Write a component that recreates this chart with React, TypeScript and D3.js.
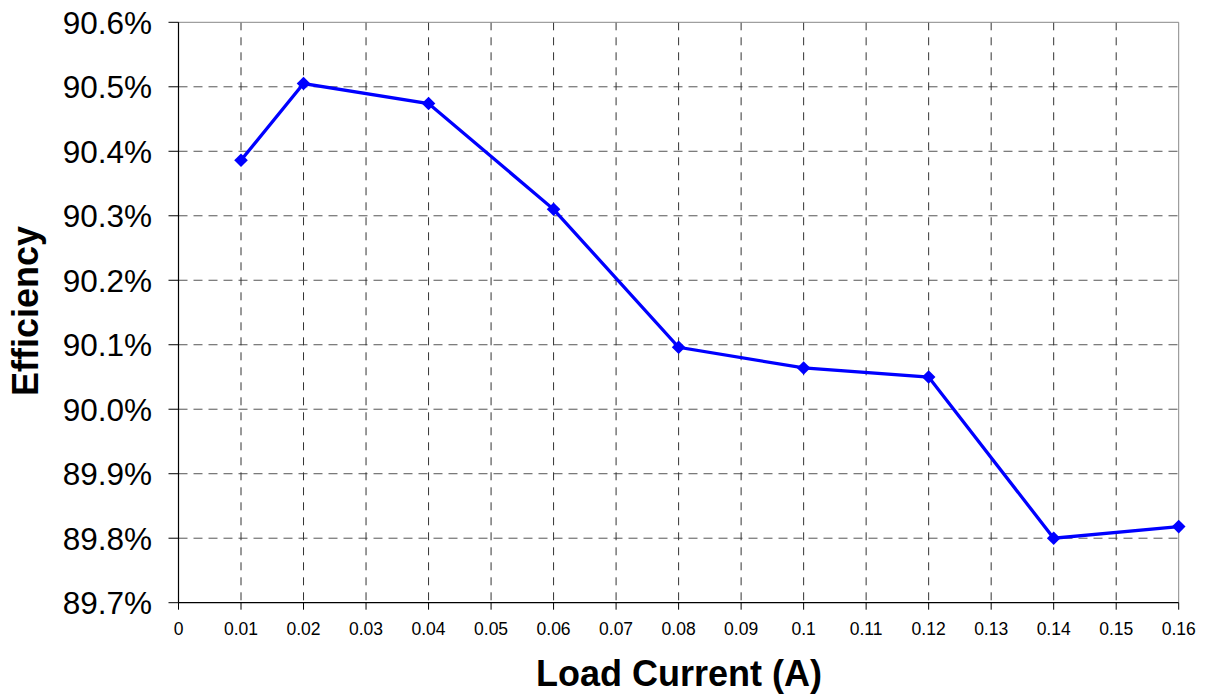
import React from "react";
import * as d3 from "d3";

const loadCurrent = [0.01, 0.02, 0.04, 0.06, 0.08, 0.1, 0.12, 0.14, 0.16];
const efficiency = [90.386, 90.505, 90.474, 90.31, 90.096, 90.064, 90.05, 89.8, 89.818];
const xTicks = [0, 0.01, 0.02, 0.03, 0.04, 0.05, 0.06, 0.07, 0.08, 0.09, 0.1, 0.11, 0.12, 0.13, 0.14, 0.15, 0.16];
const yTicks = [89.7, 89.8, 89.9, 90.0, 90.1, 90.2, 90.3, 90.4, 90.5, 90.6];

const W = 1205;
const H = 698;
const left = 178.5;
const right = 1178.7;
const top = 22.3;
const bottom = 602.7;
const FONT = "'Liberation Sans', Arial, sans-serif";

export default function App() {
  const x = d3.scaleLinear().domain([0, 0.16]).range([left, right]);
  const y = d3.scaleLinear().domain([89.7, 90.6]).range([bottom, top]);
  const pts = loadCurrent.map((c, i) => [x(c), y(efficiency[i])] as [number, number]);
  const line = d3.line()(pts) || "";
  const d = 6.8;
  return (
    <svg width={W} height={H} style={{ position: "absolute", left: 0, top: 0, background: "#fff" }}>
      <rect x={0} y={0} width={W} height={H} fill="#fff" />
      {yTicks.slice(1, -1).map((t) => (
        <line key={"hg" + t} x1={left} x2={right} y1={y(t)} y2={y(t)} stroke="#555" strokeWidth={1} strokeDasharray="9,6" />
      ))}
      {xTicks.slice(1, -1).map((t) => (
        <line key={"vg" + t} x1={x(t)} x2={x(t)} y1={top} y2={bottom} stroke="#333" strokeWidth={1} strokeDasharray="8,7" />
      ))}
      <line x1={left} x2={right} y1={top} y2={top} stroke="#888" strokeWidth={1} />
      <line x1={right} x2={right} y1={top} y2={bottom} stroke="#888" strokeWidth={1} />
      <line x1={left} x2={left} y1={top} y2={bottom} stroke="#000" strokeWidth={1.2} />
      <line x1={left} x2={right} y1={bottom} y2={bottom} stroke="#000" strokeWidth={1.2} />
      {yTicks.map((t) => (
        <g key={"yt" + t}>
          <line x1={left - 10} x2={left} y1={y(t)} y2={y(t)} stroke="#000" strokeWidth={1} />
          <text x={152} y={y(t) + 11.3} textAnchor="end" fontFamily={FONT} fontSize={31.5} fill="#000">
            {t.toFixed(1) + "%"}
          </text>
        </g>
      ))}
      {xTicks.map((t) => (
        <g key={"xt" + t}>
          <line x1={x(t)} x2={x(t)} y1={bottom} y2={bottom + 7} stroke="#000" strokeWidth={1} />
          <text x={x(t)} y={635} textAnchor="middle" fontFamily={FONT} fontSize={17.5} fill="#000">
            {String(t)}
          </text>
        </g>
      ))}
      <path d={line} fill="none" stroke="#0000FF" strokeWidth={3.3} />
      {pts.map(([px, py], i) => (
        <path key={"m" + i} d={`M${px},${py - d}L${px + d},${py}L${px},${py + d}L${px - d},${py}Z`} fill="#0000FF" />
      ))}
      <text x={679} y={686} textAnchor="middle" fontFamily={FONT} fontSize={36} fontWeight="bold" fill="#000">
        Load Current (A)
      </text>
      <text transform={`translate(38,311) rotate(-90)`} textAnchor="middle" fontFamily={FONT} fontSize={36} fontWeight="bold" fill="#000">
        Efficiency
      </text>
    </svg>
  );
}
